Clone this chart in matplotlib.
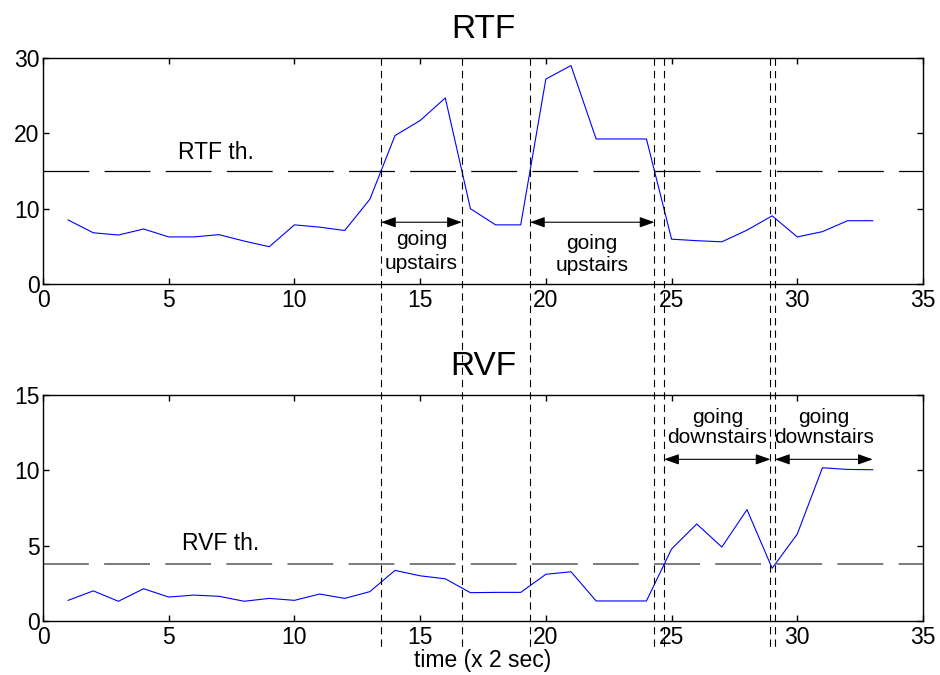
import matplotlib
matplotlib.use("Agg")
import matplotlib.pyplot as plt
from matplotlib.lines import Line2D
from matplotlib.transforms import blended_transform_factory

plt.rcParams['font.family'] = ['Liberation Sans', 'DejaVu Sans']
plt.rcParams['lines.scale_dashes'] = False

# ---- data -------------------------------------------------------------
t = list(range(1, 34))  # time index (x 2 sec)
rtf = [8.5, 6.8, 6.5, 7.3, 6.25, 6.25, 6.55, 5.7, 4.95, 7.85, 7.55, 7.1,
       11.25, 19.7, 21.7, 24.7, 10.0, 7.85, 7.85, 27.2, 29.0, 19.25, 19.25,
       19.25, 5.95, 5.75, 5.6, 7.15, 9.05, 6.25, 6.95, 8.4, 8.4]
rvf = [1.37, 2.0, 1.31, 2.14, 1.59, 1.72, 1.64, 1.31, 1.5, 1.37, 1.79, 1.5,
       1.95, 3.36, 3.0, 2.8, 1.88, 1.9, 1.9, 3.1, 3.27, 1.33, 1.33, 1.33,
       4.78, 6.44, 4.91, 7.39, 3.5, 5.77, 10.17, 10.06, 10.04]
rtf_th = 15.0
rvf_th = 3.76

titles = ["RTF", "RVF"]
th_labels = ["RTF th.", "RVF th."]
xlabel = "time (x 2 sec)"
up_label = ("going", "upstairs")
down_label = ("going", "downstairs")
rtf_yticks = [0, 10, 20, 30]
rvf_yticks = [0, 5, 10, 15]
xticks = [0, 5, 10, 15, 20, 25, 30, 35]


def crossings(x, y, level):
    """x positions where the piecewise-linear series crosses a level."""
    out = []
    for i in range(len(y) - 1):
        a, b = y[i] - level, y[i + 1] - level
        if a * b < 0:
            out.append(x[i] + (x[i + 1] - x[i]) * (-a) / (b - a))
    return out


rtf_x = crossings(t, rtf, rtf_th)
rvf_x = crossings(t, rvf, rvf_th)

# ---- figure ------------------------------------------------------------
W, H = 940, 675
fig = plt.figure(figsize=(W / 100, H / 100), dpi=100)
ax1 = fig.add_axes([43 / W, 1 - 284 / H, 880 / W, 226 / H])
ax2 = fig.add_axes([43 / W, 1 - 621 / H, 880 / W, 226 / H])

long_dash = (0, (33, 11))
short_dash = (0, (5.3, 3.6))

for ax, y, th, ttl, lab, ylim, yt in [
        (ax1, rtf, rtf_th, titles[0], th_labels[0], 30, rtf_yticks),
        (ax2, rvf, rvf_th, titles[1], th_labels[1], 15, rvf_yticks)]:
    ax.plot(t, y, color='#0000ff', lw=0.8, zorder=3)
    ax.set_xlim(0, 35)
    ax.set_ylim(0, ylim)
    ax.set_xticks(xticks)
    ax.set_yticks(yt)
    ax.tick_params(direction='in', length=4.3, width=1.0, top=True,
                   right=True, labelsize=16.5)
    ax.tick_params(axis='y', pad=2.5)
    for s in ax.spines.values():
        s.set_linewidth(1.0)
    ax.set_title(ttl, fontsize=24, pad=14.7)

ax1.axhline(rtf_th, color='k', lw=0.9, linestyle=long_dash)
ax2.axhline(rvf_th, color='#707070', lw=1.3, linestyle=long_dash)
ax1.text(5.38, 16.6, th_labels[0], fontsize=16.5, ha='left', va='baseline')
ax2.text(5.51, 4.71, th_labels[1], fontsize=16.5, ha='left', va='baseline')

ax2.set_xlabel(xlabel, fontsize=16.5, va='baseline')
ax2.xaxis.set_label_coords(0.5, (621 - 667) / 226)

# vertical event markers spanning both panels
trans = blended_transform_factory(ax1.transData, fig.transFigure)
for xv in rtf_x + rvf_x:
    fig.add_artist(Line2D([xv, xv], [1 - 58 / H, 1 - 648 / H],
                          transform=trans, color='k', lw=0.8,
                          linestyle=short_dash))

arrow_style = dict(arrowstyle='<|-|>,head_length=0.9,head_width=0.32',
                   mutation_scale=10, color='k', lw=0.8,
                   shrinkA=0, shrinkB=0)


def span(ax, x0, x1, ya, lines, yb):
    ax.annotate('', xy=(x1, ya), xytext=(x0, ya), arrowprops=arrow_style)
    xc = (x0 + x1) / 2
    for txt, yy in zip(lines, yb):
        ax.text(xc, yy, txt, fontsize=15, ha='center', va='baseline')


span(ax1, rtf_x[0], rtf_x[1], 8.2, up_label, (5.2, 2.0))
span(ax1, rtf_x[2], rtf_x[3], 8.2, up_label, (4.7, 1.7))
span(ax2, rvf_x[0], rvf_x[1], 10.73, down_label, (13.12, 11.8))
span(ax2, rvf_x[2], t[-1], 10.73, down_label, (13.12, 11.8))

fig.savefig("out.png", dpi=100)
